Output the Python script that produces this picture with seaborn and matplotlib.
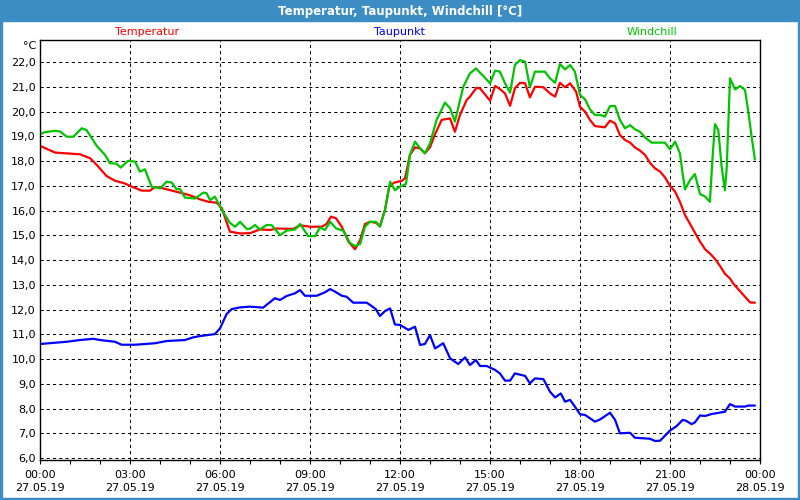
import pandas as pd
import numpy as np
import seaborn as sns
import matplotlib.pyplot as plt
from matplotlib.patches import Rectangle
from matplotlib.ticker import MultipleLocator

# values, hours since 27.05.19 00:00
temp_h = [0, 0.5, 0.83, 1.33, 1.67, 1.89, 2.22, 2.5, 2.83, 3.06, 3.39, 3.67, 3.83, 4.11, 4.33,
          4.67, 5.0, 5.33, 5.61, 5.89, 6.06, 6.33, 6.67, 7.0, 7.33, 7.67, 7.89, 8.44, 8.67, 9.0,
          9.39, 9.55, 9.7, 9.87, 10.06, 10.28, 10.5, 10.67, 10.83, 11.0, 11.2, 11.33, 11.5, 11.64,
          11.8, 12.06, 12.17, 12.33, 12.5, 12.67, 12.83, 13.0, 13.17, 13.39, 13.67, 13.83, 14.0,
          14.22, 14.33, 14.55, 14.67, 15.0, 15.17, 15.33, 15.5, 15.67, 15.83, 16.0, 16.17, 16.33,
          16.5, 16.78, 17.0, 17.17, 17.33, 17.5, 17.67, 17.87, 18.0, 18.17, 18.33, 18.5, 18.83,
          19.0, 19.17, 19.33, 19.5, 19.67, 19.83, 20.0, 20.17, 20.33, 20.5, 20.67, 20.83, 21.0,
          21.17, 21.33, 21.5, 21.67, 21.83, 22.0, 22.17, 22.33, 22.5, 22.67, 22.83, 23.0, 23.11,
          23.44, 23.67, 23.83]
temp = [18.62, 18.35, 18.32, 18.28, 18.12, 17.85, 17.4, 17.21, 17.1, 16.97, 16.81, 16.81, 16.96,
        16.9, 16.83, 16.73, 16.62, 16.46, 16.36, 16.32, 16.1, 15.15, 15.08, 15.09, 15.24, 15.22,
        15.28, 15.26, 15.41, 15.35, 15.35, 15.46, 15.76, 15.69, 15.35, 14.75, 14.44, 14.81, 15.46,
        15.55, 15.51, 15.38, 16.03, 16.97, 17.13, 17.21, 17.31, 18.25, 18.56, 18.52, 18.32, 18.56,
        19.1, 19.67, 19.73, 19.19, 19.87, 20.47, 20.61, 20.97, 20.94, 20.45, 21.04, 20.92, 20.74,
        20.24, 20.95, 21.17, 21.15, 20.58, 21.01, 20.99, 20.74, 20.61, 21.17, 20.99, 21.15, 20.81,
        20.2, 20.0, 19.67, 19.42, 19.37, 19.64, 19.53, 19.06, 18.86, 18.75, 18.56, 18.43, 18.25,
        17.94, 17.71, 17.58, 17.35, 17.0, 16.77, 16.36, 15.82, 15.46, 15.11, 14.75, 14.44, 14.27,
        14.05, 13.76, 13.45, 13.26, 13.05, 12.6, 12.29, 12.28]

dew_h = [0, 0.89, 1.33, 1.78, 2.0, 2.5, 2.72, 3.17, 3.83, 4.22, 4.83, 5.11, 5.33, 5.83, 6.0, 6.22,
         6.39, 6.67, 7.0, 7.44, 7.55, 7.83, 8.0, 8.22, 8.5, 8.67, 8.83, 9.22, 9.5, 9.67, 9.83,
         10.06, 10.22, 10.44, 10.89, 11.06, 11.2, 11.33, 11.5, 11.67, 11.83, 12.0, 12.28, 12.5,
         12.67, 12.83, 13.0, 13.17, 13.44, 13.67, 13.94, 14.17, 14.33, 14.53, 14.67, 14.89, 15.17,
         15.33, 15.5, 15.67, 15.83, 16.17, 16.33, 16.5, 16.78, 17.0, 17.17, 17.36, 17.5, 17.67,
         17.83, 18.0, 18.17, 18.5, 18.67, 19.0, 19.17, 19.33, 19.67, 19.83, 20.33, 20.5, 20.67,
         21.0, 21.22, 21.42, 21.53, 21.72, 21.83, 22.0, 22.17, 22.39, 22.83, 23.0, 23.17, 23.5,
         23.61, 23.83]
dew = [10.61, 10.7, 10.77, 10.82, 10.77, 10.7, 10.58, 10.58, 10.64, 10.73, 10.77, 10.88, 10.93,
       11.01, 11.24, 11.82, 12.02, 12.09, 12.12, 12.08, 12.19, 12.46, 12.39, 12.55, 12.66, 12.79,
       12.56, 12.56, 12.7, 12.83, 12.73, 12.56, 12.52, 12.28, 12.28, 12.14, 12.01, 11.74, 11.94,
       12.05, 11.4, 11.38, 11.18, 11.31, 10.57, 10.61, 10.97, 10.43, 10.64, 10.03, 9.8, 10.07,
       9.76, 9.96, 9.72, 9.72, 9.56, 9.42, 9.13, 9.13, 9.42, 9.32, 9.02, 9.22, 9.19, 8.68, 8.45,
       8.61, 8.28, 8.35, 8.08, 7.77, 7.74, 7.47, 7.56, 7.83, 7.54, 7.0, 7.02, 6.82, 6.78, 6.69,
       6.7, 7.11, 7.29, 7.54, 7.51, 7.37, 7.44, 7.72, 7.7, 7.78, 7.87, 8.18, 8.08, 8.08, 8.12,
       8.12]

wind_h = [0, 0.15, 0.5, 0.67, 0.89, 1.11, 1.39, 1.55, 1.89, 2.17, 2.33, 2.55, 2.69, 2.94, 3.17,
          3.33, 3.5, 3.72, 4.0, 4.22, 4.39, 4.55, 4.67, 4.83, 5.17, 5.44, 5.55, 5.67, 5.83, 6.06,
          6.33, 6.5, 6.67, 6.89, 7.0, 7.17, 7.33, 7.55, 7.72, 8.0, 8.22, 8.5, 8.67, 8.94, 9.17,
          9.33, 9.5, 9.67, 9.87, 10.11, 10.33, 10.5, 10.67, 10.83, 11.0, 11.2, 11.33, 11.5, 11.67,
          11.83, 12.0, 12.2, 12.33, 12.5, 12.67, 12.83, 13.0, 13.22, 13.5, 13.67, 13.83, 14.11,
          14.33, 14.53, 14.78, 15.0, 15.17, 15.33, 15.5, 15.67, 15.83, 16.0, 16.17, 16.33, 16.5,
          16.83, 17.0, 17.17, 17.33, 17.5, 17.67, 17.83, 18.0, 18.17, 18.33, 18.5, 18.67, 18.83,
          19.0, 19.17, 19.33, 19.5, 19.67, 19.83, 20.0, 20.17, 20.39, 20.83, 21.0, 21.17, 21.33,
          21.42, 21.5, 21.67, 21.83, 22.0, 22.17, 22.33, 22.42, 22.5, 22.61, 22.72, 22.83, 22.89,
          23.0, 23.17, 23.33, 23.5, 23.61, 23.72, 23.83]
wind = [19.09, 19.17, 19.23, 19.2, 18.99, 18.99, 19.33, 19.26, 18.62, 18.25, 17.92, 17.9, 17.74,
        18.02, 17.98, 17.58, 17.67, 16.97, 16.9, 17.17, 17.14, 16.87, 16.87, 16.53, 16.49, 16.73,
        16.71, 16.43, 16.57, 16.03, 15.51, 15.35, 15.55, 15.26, 15.27, 15.42, 15.24, 15.42, 15.42,
        15.01, 15.19, 15.24, 15.46, 14.97, 14.97, 15.32, 15.22, 15.55, 15.28, 15.19, 14.7, 14.57,
        14.65, 15.35, 15.55, 15.55, 15.35, 16.03, 17.17, 16.83, 16.97, 17.08, 18.25, 18.79, 18.52,
        18.32, 18.72, 19.67, 20.37, 20.14, 19.6, 21.01, 21.55, 21.75, 21.44, 21.15, 21.66, 21.62,
        21.15, 20.77, 21.89, 22.09, 22.02, 20.99, 21.62, 21.62, 21.35, 21.17, 21.93, 21.71, 21.89,
        21.62, 20.68, 20.5, 20.1, 19.87, 19.87, 19.8, 20.23, 20.23, 19.67, 19.33, 19.46, 19.29,
        19.19, 18.96, 18.75, 18.75, 18.48, 18.79, 18.32, 17.51, 16.86, 17.24, 17.48, 16.67, 16.57,
        16.36, 18.18, 19.5, 19.26, 17.78, 16.83, 17.71, 21.35, 20.9, 21.04, 20.88, 20.0, 18.99,
        18.07]

tick_hours = [0, 3, 6, 9, 12, 15, 18, 21, 24]
tick_labels = ["00:00\n27.05.19", "03:00\n27.05.19", "06:00\n27.05.19", "09:00\n27.05.19",
               "12:00\n27.05.19", "15:00\n27.05.19", "18:00\n27.05.19", "21:00\n27.05.19",
               "00:00\n28.05.19"]

sns.set_style("white")
plt.rcParams['font.family'] = ['DejaVu Sans']

fig = plt.figure(figsize=(8, 5), dpi=100)
ax = fig.add_axes([0.05, 0.08, 0.9, 0.84])

lw = 1.6
sns.lineplot(x=temp_h, y=temp, ax=ax, color="#ff0000", linewidth=lw)
sns.lineplot(x=dew_h, y=dew, ax=ax, color="#0000ff", linewidth=lw)
sns.lineplot(x=wind_h, y=wind, ax=ax, color="#00c400", linewidth=lw)

ax.set_xlim(0, 24)
ax.set_ylim(5.92, 22.9)
ax.set_xticks(tick_hours)
ax.set_xticklabels(tick_labels, fontsize=8, linespacing=1.35)
ax.xaxis.set_minor_locator(MultipleLocator(1))
ax.set_yticks(np.arange(6, 23, 1))
ax.set_yticklabels([f"{v:.1f}".replace(".", ",") for v in np.arange(6, 23, 1)], fontsize=8)
ax.tick_params(axis="x", which="both", direction="out", length=3, width=0.8, pad=4,
               bottom=True, colors="black")
ax.tick_params(axis="y", length=0, pad=3, colors="black")
ax.grid(True, color="black", linestyle=(0, (3, 3)), linewidth=0.75)
ax.set_xlabel("")
ax.set_ylabel("")
for s in ax.spines.values():
    s.set_color("black")
    s.set_linewidth(1.0)
    s.set_visible(True)

# window frame and title bar
bar = "#3c8dc4"
fig.patches.append(Rectangle((0, 1 - 21 / 500), 1, 21 / 500, transform=fig.transFigure,
                             color=bar, zorder=0))
fig.patches.append(Rectangle((0, 0), 2 / 800, 1, transform=fig.transFigure, color=bar))
fig.patches.append(Rectangle((1 - 2 / 800, 0), 2 / 800, 1, transform=fig.transFigure, color=bar))
fig.patches.append(Rectangle((0, 0), 1, 2 / 500, transform=fig.transFigure, color=bar))
fig.text(0.5, 1 - 11 / 500, "Temperatur, Taupunkt, Windchill [°C]", color="white",
         fontsize=8.5, fontweight="bold", ha="center", va="center")

fig.text(147 / 800, 1 - 32 / 500, "Temperatur", color="#ff0000", fontsize=8, ha="center", va="center")
fig.text(400 / 800, 1 - 32 / 500, "Taupunkt", color="#0000ff", fontsize=8, ha="center", va="center")
fig.text(652 / 800, 1 - 32 / 500, "Windchill", color="#00c400", fontsize=8, ha="center", va="center")
fig.text(36 / 800, 1 - 46 / 500, "°C", color="black", fontsize=8, ha="right", va="center")

fig.savefig("out.png", dpi=100)
